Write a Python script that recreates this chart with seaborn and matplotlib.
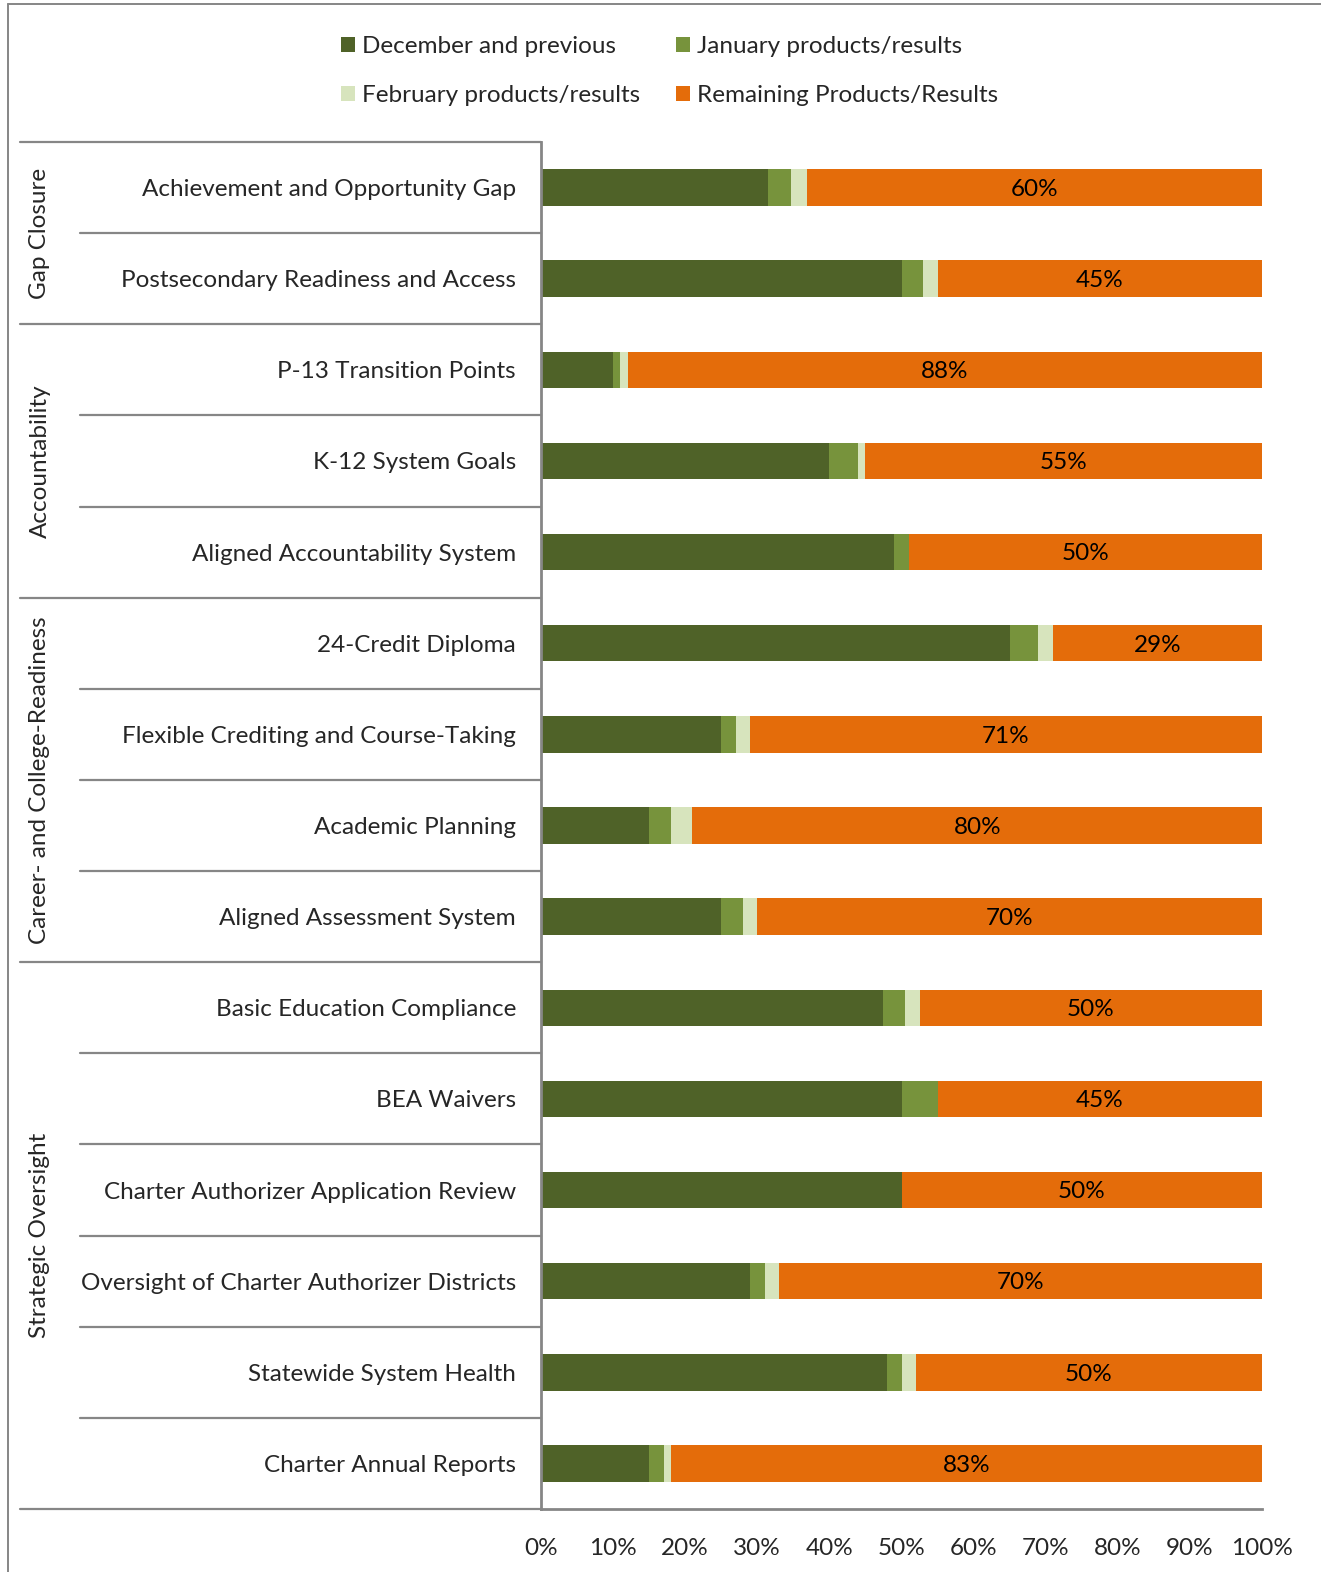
import matplotlib
matplotlib.use("Agg")
import matplotlib.pyplot as plt
from matplotlib.lines import Line2D
from matplotlib.patches import Patch
import matplotlib.transforms as mtransforms
import seaborn as sns
import pandas as pd
import numpy as np

categories = [
    "Achievement and Opportunity Gap",
    "Postsecondary Readiness and Access",
    "P-13 Transition Points",
    "K-12 System Goals",
    "Aligned Accountability System",
    "24-Credit Diploma",
    "Flexible Crediting and Course-Taking",
    "Academic Planning",
    "Aligned Assessment System",
    "Basic Education Compliance",
    "BEA Waivers",
    "Charter Authorizer Application Review",
    "Oversight of Charter Authorizer Districts",
    "Statewide System Health",
    "Charter Annual Reports",
]
december = [31.5, 50, 10, 40, 49, 65, 25, 15, 25, 47.5, 50, 50, 29, 48, 15]
january = [3.2, 3, 1, 4, 2, 4, 2, 3, 3, 3, 5, 0, 2, 2, 2]
february = [2.2, 2, 1, 1, 0, 2, 2, 3, 2, 2, 0, 0, 2, 2, 1]
remaining = [63.1, 45, 88, 55, 49, 29, 71, 79, 70, 47.5, 45, 50, 67, 48, 82]
remaining_labels = ["60%", "45%", "88%", "55%", "50%", "29%", "71%", "80%",
                    "70%", "50%", "45%", "50%", "70%", "50%", "83%"]
groups = ["Gap Closure", "Accountability", "Career- and College-Readiness",
          "Strategic Oversight"]
group_sizes = [2, 3, 4, 6]
series_names = ["December and previous", "January products/results",
                "February products/results", "Remaining Products/Results"]
colors = ["#4F6228", "#77933C", "#D7E4BD", "#E46C0A"]
xticks = list(range(0, 101, 10))

sns.set_theme(style="white")
plt.rcParams["font.family"] = ["Lato", "DejaVu Sans"]
FS = 17.5

W, H = 1321, 1572
fig = plt.figure(figsize=(W / 100, H / 100), dpi=100)
ax = fig.add_axes([541 / W, 1 - 1509 / H, 721 / W, (1509 - 142) / H])

df = pd.DataFrame({
    "cat": categories,
    "dec": december, "jan": january, "feb": february, "rem": remaining,
})
df["c1"] = df["dec"]
df["c2"] = df["c1"] + df["jan"]
df["c3"] = df["c2"] + df["feb"]
df["c4"] = df["c3"] + df["rem"]

for col, color in zip(["c4", "c3", "c2", "c1"], colors[::-1]):
    sns.barplot(data=df, x=col, y="cat", orient="h", color=color,
                width=0.4, linewidth=0, saturation=1, ax=ax, errorbar=None)

# labels in remaining segment
for i, lab in enumerate(remaining_labels):
    xc = (df["c3"][i] + df["c4"][i]) / 2
    ax.text(xc, i + 0.02, lab, ha="center", va="center", fontsize=FS,
            color="black")

ax.set_xlim(0, 100)
ax.set_ylim(len(categories) - 0.5, -0.5)
ax.set_xticks(xticks)
ax.set_xticklabels([f"{t}%" for t in xticks], fontsize=FS)
ax.set_ylabel("")
ax.set_xlabel("")
ax.tick_params(axis="y", length=0, pad=18, labelsize=FS)
ax.tick_params(axis="x", length=7, width=1.4, color="#868686", pad=14)
for s in ["top", "right"]:
    ax.spines[s].set_visible(False)
for s in ["left", "bottom"]:
    ax.spines[s].set_color("#868686")
    ax.spines[s].set_linewidth(2)

# separator lines
trans = mtransforms.blended_transform_factory(ax.transAxes, ax.transData)
boundaries = np.cumsum([0] + group_sizes)
group_edges = set(boundaries.tolist())
for b in range(len(categories) + 1):
    y = b - 0.5
    x0 = (20 - 541) / 721 if b in group_edges else (80 - 541) / 721
    ax.add_line(Line2D([x0, 0], [y, y], transform=trans, color="#868686",
                       lw=1.6, clip_on=False))

# group labels
for g, start, size in zip(groups, boundaries[:-1], group_sizes):
    yc = start + size / 2 - 0.5
    ax.text((40 - 541) / 721, yc, g, transform=trans, rotation=90,
            ha="center", va="center", fontsize=FS)

# legend (row-wise order: Dec, Jan / Feb, Rem)
order = [0, 2, 1, 3]
handles = [Patch(facecolor=colors[k], edgecolor="none") for k in order]
labels = [series_names[k] for k in order]
fig.legend(handles, labels, loc="upper center", ncol=2,
           bbox_to_anchor=(0.507, 1 - 14 / H), frameon=False, fontsize=FS,
           handlelength=0.55, handleheight=0.55, handletextpad=0.3,
           columnspacing=1.5, labelspacing=1.15)

# outer border
fig.add_artist(Line2D([8 / W, 8 / W], [0, 1 - 4 / H], color="#868686", lw=1.4))
fig.add_artist(Line2D([8 / W, 1], [1 - 4 / H, 1 - 4 / H], color="#868686", lw=1.4))

fig.savefig("out.png", dpi=100)
